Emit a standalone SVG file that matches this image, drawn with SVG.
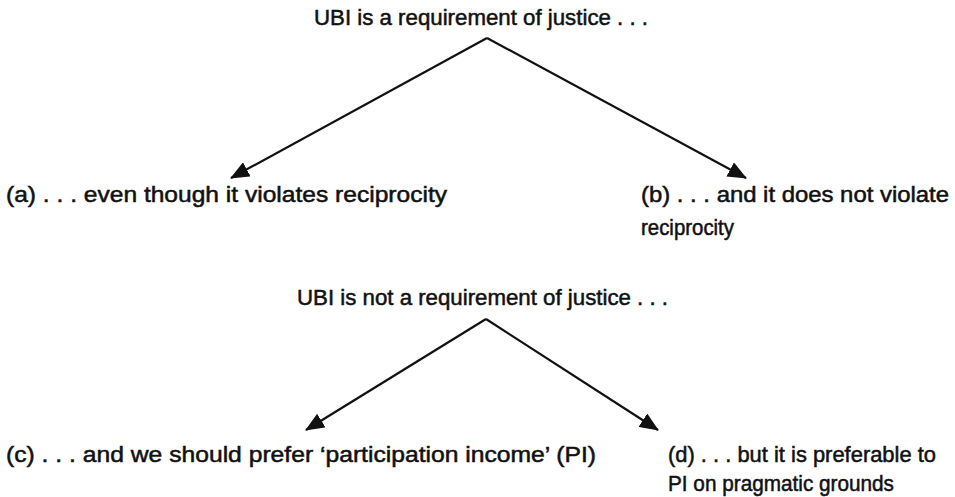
<svg xmlns="http://www.w3.org/2000/svg" width="955" height="497" viewBox="0 0 955 497">
<defs>
<style>
text{font-family:"Liberation Sans",Arial,sans-serif;font-size:21.5px;fill:#111;stroke:#111;stroke-width:0.5px;}
.c{stroke:#111;stroke-width:2.2;fill:none;}
</style>
<marker id="ah" viewBox="0 0 19 16" refX="18" refY="8" markerWidth="19" markerHeight="16" markerUnits="userSpaceOnUse" orient="auto">
<path d="M0,0 L19,8 L0,16 Z" fill="#111"/>
</marker>
</defs>
<rect width="955" height="497" fill="#fff"/>
<g id="n-top"><text x="314" y="25" textLength="334" lengthAdjust="spacingAndGlyphs">UBI is a requirement of justice . . .</text></g>
<g id="n-a"><text x="6" y="202" textLength="441" lengthAdjust="spacingAndGlyphs">(a) . . . even though it violates reciprocity</text></g>
<g id="n-b"><text x="641" y="202" textLength="308" lengthAdjust="spacingAndGlyphs">(b) . . . and it does not violate</text><text x="641" y="235" textLength="93" lengthAdjust="spacingAndGlyphs">reciprocity</text></g>
<g id="n-bottom"><text x="297" y="305" textLength="371" lengthAdjust="spacingAndGlyphs">UBI is not a requirement of justice . . .</text></g>
<g id="n-c"><text x="6" y="462" textLength="590" lengthAdjust="spacingAndGlyphs">(c) . . . and we should prefer ‘participation income’ (PI)</text></g>
<g id="n-d"><text x="668" y="462" textLength="268" lengthAdjust="spacingAndGlyphs">(d) . . . but it is preferable to</text><text x="668" y="491" textLength="226" lengthAdjust="spacingAndGlyphs">PI on pragmatic grounds</text></g>
<g id="connectors">
<path class="c" d="M487,38 L231,178" marker-end="url(#ah)"/>
<path class="c" d="M487,38 L746,178" marker-end="url(#ah)"/>
<path class="c" d="M486,319 L306,430" marker-end="url(#ah)"/>
<path class="c" d="M486,319 L658,430" marker-end="url(#ah)"/>
</g>
</svg>
